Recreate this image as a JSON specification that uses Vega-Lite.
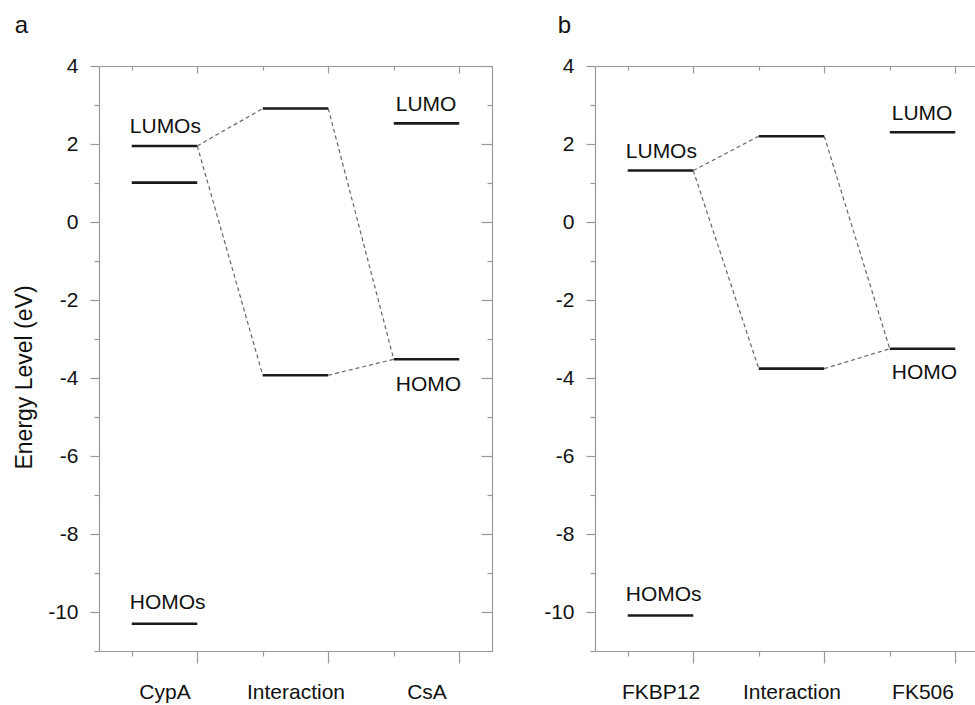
{
  "$schema": "https://vega.github.io/schema/vega-lite/v6.json",
  "padding": {"left": 13, "top": 14, "right": 0, "bottom": 0},
  "background": "white",
  "config": {"view": {"stroke": null}, "font": "Liberation Sans", "concat": {"spacing": 50}},
  "hconcat": [
    {
      "width": 393, "height": 585,
      "title": {"text": "a", "anchor": "start", "frame": "bounds", "fontSize": 24, "fontWeight": "normal", "offset": 17, "color": "#111", "dx": 1},
      "layer": [
        {
          "data": {"values": [
            {"x1": 1, "x2": 2, "e": 1.95}, {"x1": 1, "x2": 2, "e": 1.01},
            {"x1": 3, "x2": 4, "e": 2.91}, {"x1": 3, "x2": 4, "e": -3.93},
            {"x1": 5, "x2": 6, "e": 2.53}, {"x1": 5, "x2": 6, "e": -3.52},
            {"x1": 1, "x2": 2, "e": -10.3}
          ]},
          "mark": {"type": "rule", "strokeWidth": 2.6, "color": "#1a1a1a"},
          "encoding": {
            "x": {"field": "x1", "type": "quantitative", "scale": {"domain": [0.5, 6.5], "nice": false, "zero": false},
              "axis": {"orient": "bottom", "values": [1, 1.5, 2, 3, 3.5, 4, 5, 5.5, 6], "title": null, "grid": false,
                "domainColor": "#999", "domainWidth": 1.2, "tickColor": "#999", "tickWidth": 1.2,
                "tickSize": {"condition": {"test": "datum.value % 2 == 0", "value": 12}, "value": 5},
                "tickOpacity": {"condition": {"test": "datum.value % 1 != 0", "value": 0}, "value": 1},
                "labelExpr": "datum.value == 1.5 ? 'CypA' : datum.value == 3.5 ? 'Interaction' : datum.value == 5.5 ? 'CsA' : ''",
                "labelFontSize": 21, "labelColor": "#111", "labelPadding": 25, "labelFlush": false, "labelOverlap": false}},
            "x2": {"field": "x2"},
            "y": {"field": "e", "type": "quantitative", "scale": {"domain": [-11, 4], "nice": false, "zero": false},
              "axis": {"orient": "left", "values": [-11, -10, -9, -8, -7, -6, -5, -4, -3, -2, -1, 0, 1, 2, 3, 4], "grid": false,
                "title": "Energy Level (eV)", "titleFontSize": 23, "titleFontWeight": "normal", "titleColor": "#111", "titlePadding": 11, "titleY": 311,
                "domainColor": "#999", "domainWidth": 1.2, "tickColor": "#999", "tickWidth": 1.2,
                "tickSize": {"condition": {"test": "datum.value % 2 == 0", "value": 9}, "value": 5},
                "labelExpr": "datum.value % 2 == 0 ? toString(datum.value) : ''",
                "labelFontSize": 21, "labelColor": "#111", "labelPadding": 12, "labelOverlap": false, "labelFlush": false}}
          }
        },
        {
          "data": {"values": [
            {"x1": 2, "y1": 1.95, "x2": 3, "y2": 2.91}, {"x1": 2, "y1": 1.95, "x2": 3, "y2": -3.93},
            {"x1": 4, "y1": 2.91, "x2": 5, "y2": -3.52}, {"x1": 4, "y1": -3.93, "x2": 5, "y2": -3.52}
          ]},
          "mark": {"type": "rule", "strokeDash": [4, 3], "strokeWidth": 1.2, "color": "#666"},
          "encoding": {
            "x": {"field": "x1", "type": "quantitative", "scale": {"domain": [0.5, 6.5], "nice": false, "zero": false},
              "axis": {"orient": "top", "values": [1, 2, 3, 4, 5, 6], "title": null, "grid": false, "labels": false,
                "domainColor": "#999", "domainWidth": 1.2, "tickColor": "#999", "tickWidth": 1.2,
                "tickSize": {"condition": {"test": "datum.value % 2 == 0", "value": -7}, "value": -4}}},
            "x2": {"field": "x2"},
            "y": {"field": "y1", "type": "quantitative", "scale": {"domain": [-11, 4], "nice": false, "zero": false},
              "axis": {"orient": "right", "values": [-11, -10, -9, -8, -7, -6, -5, -4, -3, -2, -1, 0, 1, 2, 3, 4], "grid": false, "labels": false, "title": null,
                "domainColor": "#999", "domainWidth": 1.2, "tickColor": "#999", "tickWidth": 1.2,
                "tickSize": {"condition": {"test": "datum.value % 2 == 0", "value": -11}, "value": -5}}},
            "y2": {"field": "y2"}
          }
        },
        {
          "data": {"values": [
            {"x": 0.97, "y": 2.29, "t": "LUMOs"}, {"x": 5.03, "y": 2.85, "t": "LUMO"},
            {"x": 5.03, "y": -4.33, "t": "HOMO"}, {"x": 0.97, "y": -9.93, "t": "HOMOs"}
          ]},
          "mark": {"type": "text", "fontSize": 21, "align": "left", "baseline": "alphabetic", "color": "#111"},
          "encoding": {
            "x": {"field": "x", "type": "quantitative", "axis": null},
            "y": {"field": "y", "type": "quantitative", "axis": null},
            "text": {"field": "t"}
          }
        }
      ],
      "resolve": {"axis": {"x": "independent", "y": "independent"}}
    },
    {
      "width": 393, "height": 585,
      "title": {"text": "b", "anchor": "start", "frame": "bounds", "fontSize": 24, "fontWeight": "normal", "offset": 17, "color": "#111", "dx": 14},
      "layer": [
        {
          "data": {"values": [
            {"x1": 1, "x2": 2, "e": 1.32},
            {"x1": 3, "x2": 4, "e": 2.2}, {"x1": 3, "x2": 4, "e": -3.76},
            {"x1": 5, "x2": 6, "e": 2.3}, {"x1": 5, "x2": 6, "e": -3.25},
            {"x1": 1, "x2": 2, "e": -10.09}
          ]},
          "mark": {"type": "rule", "strokeWidth": 2.6, "color": "#1a1a1a"},
          "encoding": {
            "x": {"field": "x1", "type": "quantitative", "scale": {"domain": [0.5, 6.5], "nice": false, "zero": false},
              "axis": {"orient": "bottom", "values": [1, 1.5, 2, 3, 3.5, 4, 5, 5.5, 6], "title": null, "grid": false,
                "domainColor": "#999", "domainWidth": 1.2, "tickColor": "#999", "tickWidth": 1.2,
                "tickSize": {"condition": {"test": "datum.value % 2 == 0", "value": 12}, "value": 5},
                "tickOpacity": {"condition": {"test": "datum.value % 1 != 0", "value": 0}, "value": 1},
                "labelExpr": "datum.value == 1.5 ? 'FKBP12' : datum.value == 3.5 ? 'Interaction' : datum.value == 5.5 ? 'FK506' : ''",
                "labelFontSize": 21, "labelColor": "#111", "labelPadding": 25, "labelFlush": false, "labelOverlap": false}},
            "x2": {"field": "x2"},
            "y": {"field": "e", "type": "quantitative", "scale": {"domain": [-11, 4], "nice": false, "zero": false},
              "axis": {"orient": "left", "values": [-11, -10, -9, -8, -7, -6, -5, -4, -3, -2, -1, 0, 1, 2, 3, 4], "grid": false,
                "title": null,
                "domainColor": "#999", "domainWidth": 1.2, "tickColor": "#999", "tickWidth": 1.2,
                "tickSize": {"condition": {"test": "datum.value % 2 == 0", "value": 9}, "value": 5},
                "labelExpr": "datum.value % 2 == 0 ? toString(datum.value) : ''",
                "labelFontSize": 21, "labelColor": "#111", "labelPadding": 12, "labelOverlap": false, "labelFlush": false}}
          }
        },
        {
          "data": {"values": [
            {"x1": 2, "y1": 1.32, "x2": 3, "y2": 2.2}, {"x1": 2, "y1": 1.32, "x2": 3, "y2": -3.76},
            {"x1": 4, "y1": 2.2, "x2": 5, "y2": -3.25}, {"x1": 4, "y1": -3.76, "x2": 5, "y2": -3.25}
          ]},
          "mark": {"type": "rule", "strokeDash": [4, 3], "strokeWidth": 1.2, "color": "#666"},
          "encoding": {
            "x": {"field": "x1", "type": "quantitative", "scale": {"domain": [0.5, 6.5], "nice": false, "zero": false},
              "axis": {"orient": "top", "values": [1, 2, 3, 4, 5, 6], "title": null, "grid": false, "labels": false,
                "domainColor": "#999", "domainWidth": 1.2, "tickColor": "#999", "tickWidth": 1.2,
                "tickSize": {"condition": {"test": "datum.value % 2 == 0", "value": -7}, "value": -4}}},
            "x2": {"field": "x2"},
            "y": {"field": "y1", "type": "quantitative", "scale": {"domain": [-11, 4], "nice": false, "zero": false},
              "axis": {"orient": "right", "values": [-11, -10, -9, -8, -7, -6, -5, -4, -3, -2, -1, 0, 1, 2, 3, 4], "grid": false, "labels": false, "title": null,
                "domainColor": "#999", "domainWidth": 1.2, "tickColor": "#999", "tickWidth": 1.2,
                "tickSize": {"condition": {"test": "datum.value % 2 == 0", "value": -11}, "value": -5}}},
            "y2": {"field": "y2"}
          }
        },
        {
          "data": {"values": [
            {"x": 0.97, "y": 1.64, "t": "LUMOs"}, {"x": 5.03, "y": 2.62, "t": "LUMO"},
            {"x": 5.03, "y": -4.03, "t": "HOMO"}, {"x": 0.97, "y": -9.72, "t": "HOMOs"}
          ]},
          "mark": {"type": "text", "fontSize": 21, "align": "left", "baseline": "alphabetic", "color": "#111"},
          "encoding": {
            "x": {"field": "x", "type": "quantitative", "axis": null},
            "y": {"field": "y", "type": "quantitative", "axis": null},
            "text": {"field": "t"}
          }
        }
      ],
      "resolve": {"axis": {"x": "independent", "y": "independent"}}
    }
  ]
}
